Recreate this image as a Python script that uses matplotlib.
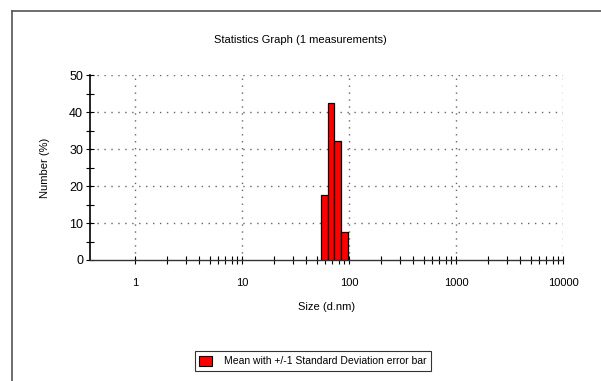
import numpy as np
import matplotlib
matplotlib.use("Agg")
import matplotlib.pyplot as plt
from matplotlib.lines import Line2D
from matplotlib.patches import Patch
from matplotlib.ticker import NullFormatter, FixedLocator

plt.rcParams['font.family'] = ['Liberation Sans', 'DejaVu Sans']

# bin edges (d.nm) and number %
bin_edges = [54.4, 63.1, 73.1, 84.7, 98.1]
number_pct = [17.6, 42.4, 32.2, 7.6]
x_ticks = [1, 10, 100, 1000, 10000]
x_labels = ["1", "10", "100", "1000", "10000"]
y_ticks = [0, 10, 20, 30, 40, 50]

fig = plt.figure(figsize=(6.01, 3.81), dpi=100)

# outer frame (left and top only)
fig.add_artist(Line2D([12/601, 12/601], [0, 1 - 11/381], color="#555555", lw=1.2,
                      transform=fig.transFigure))
fig.add_artist(Line2D([12/601, 1], [1 - 11/381, 1 - 11/381], color="#555555", lw=1.2,
                      transform=fig.transFigure))

ax = fig.add_axes([90/601, 1 - 260/381, (563 - 90)/601, (260 - 75)/381])

edges = np.array(bin_edges)
ax.bar(edges[:-1], number_pct, width=np.diff(edges), align="edge",
       color="#ff0000", edgecolor="black", linewidth=0.9, zorder=3)

ax.set_xscale("log")
ax.set_xlim(0.379, 10000)
ax.set_ylim(0, 50)

# grid
for y in y_ticks[1:]:
    ax.axhline(y, color="#666666", lw=1, ls=(0, (1, 4)), zorder=1)
for x in x_ticks:
    ax.axvline(x, color="#666666", lw=1, ls=(0, (1, 4)), zorder=1)

ax.spines["top"].set_visible(False)
ax.spines["right"].set_visible(False)
ax.spines["left"].set_linewidth(1.2)
ax.spines["bottom"].set_linewidth(1.0)
ax.spines["bottom"].set_color("#333333")

minor_x = [m * 10 ** e for e in range(0, 4) for m in range(2, 10)]
ax.xaxis.set_major_locator(FixedLocator(x_ticks))
ax.set_xticklabels(x_labels)
ax.xaxis.set_minor_locator(FixedLocator(minor_x))
ax.xaxis.set_minor_formatter(NullFormatter())
ax.set_yticks(y_ticks)
ax.yaxis.set_minor_locator(FixedLocator([5, 15, 25, 35, 45]))

ax.tick_params(axis="x", which="both", direction="inout", length=6, width=0.8,
               labelsize=8, pad=10)
ax.tick_params(axis="y", which="both", direction="inout", length=6, width=0.8,
               labelsize=9, pad=2)

ax.set_xlabel("Size (d.nm)", fontsize=8, labelpad=10)
ax.set_ylabel("Number (%)", fontsize=8, labelpad=14)
fig.text(0.5, 1 - 40/381, "Statistics Graph (1 measurements)", ha="center",
         va="center", fontsize=8)

leg = fig.legend(handles=[Patch(facecolor="#ff0000", edgecolor="black", lw=0.8)],
                 labels=["Mean with +/-1 Standard Deviation error bar"],
                 loc="center", bbox_to_anchor=(313/601, 1 - 361/381),
                 fontsize=7.5, frameon=True, fancybox=False, borderpad=0.4,
                 handlelength=1.2, handleheight=1.2, handletextpad=1.2)
leg.get_frame().set_edgecolor("black")
leg.get_frame().set_linewidth(0.8)

fig.savefig("out.png", dpi=100)
